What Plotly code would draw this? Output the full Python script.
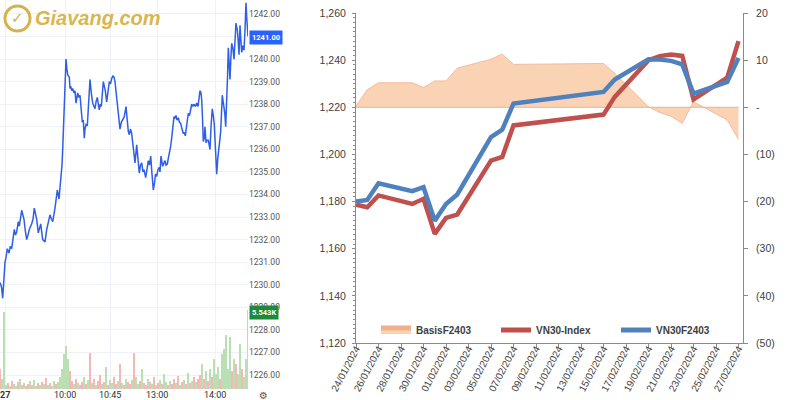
import plotly.graph_objects as go

# ---------------- Left panel: intraday VN30F futures (Giavang.com) ----------------
price_minute = [0,1.5,2.7,4,5,6,7.3,9,10.3,11.7,13,14.3,15.5,16.7,18.3,19.3,21.7,23,24,25.3,26.7,28,29.3,31.7,33,34.3,35.5,36.7,38.3,39.5,40.7,42.7,45,46.7,48,50,51.5,52.7,55,56,57.3,59,61,62,62.7,63.3,64,65,66,66.8,67.7,69.3,70,70.7,71.7,72.7,74,75,76,77.7,79,80,81,82.3,83.3,84.3,85,86,87.3,88.7,90,91.3,92.7,94,95,96,97.3,98.3,99.3,100.3,101.3,103.3,104.3,105.3,106.7,108,109.3,110.5,111.7,113,114,115,116,117,118.3,119.2,120,121.3,122.7,124.3,126,127.3,128.3,129.3,130.5,131.7,133.3,135,136.7,138,139.3,140.5,141.7,143,144,145.7,147,148.3,149.5,150.7,152,153.3,154.5,155.5,156.7,158,159.3,160,161,162.7,164,165,166,167.3,168.3,169.3,170.5,171.7,173,174,175,176,177,178.3,179.5,180.7,182,183.3,184.3,185.3,186.5,188.3,189.5,190.7,191.7,193,194,195.3,196.7,198,199,200,201,201.7,202.5,203.3,204.3,205,206,207,208.3,209.2,210,211,212.3,213.3,214.3,215.5,216.7,217.8,219,220,220.7,221.5,222.3,223.2,224,224.8,225.7,226.7,227.5,228.3,229.2,230,230.8,231.7,232.8,234,235,236,236.7,237.3,238.2,239,239.5,240,240.8,241.7,242.8,244,245,246,246.8,247.7,248]
price_value = [1230.1,1229.9,1229.4,1230.6,1231.0,1231.2,1231.6,1231.4,1231.7,1231.6,1232.1,1232.45,1232.2,1232.35,1232.8,1232.6,1233.3,1233.1,1232.9,1232.4,1232.0,1232.2,1232.45,1232.7,1232.9,1233.4,1233.1,1232.9,1232.3,1232.5,1232.7,1232.0,1231.9,1232.45,1232.7,1233.1,1232.9,1232.8,1233.4,1233.7,1234.2,1233.8,1234.7,1235.3,1236.0,1236.9,1237.9,1239.0,1240.0,1239.6,1239.3,1239.2,1238.7,1238.8,1238.6,1238.7,1238.5,1238.6,1238.05,1238.5,1238.3,1238.4,1237.9,1237.2,1237.3,1236.5,1236.9,1237.1,1237.05,1238.0,1239.1,1238.5,1238.05,1237.9,1237.8,1238.1,1238.3,1238.0,1237.75,1238.0,1237.9,1239.0,1238.8,1238.6,1238.1,1238.7,1239.0,1238.9,1239.15,1239.25,1239.2,1239.0,1238.6,1238.3,1237.7,1237.3,1236.9,1237.2,1237.3,1237.45,1237.9,1237.2,1236.8,1236.65,1236.9,1236.7,1236.0,1235.4,1236.2,1235.6,1234.95,1235.3,1235.4,1235.0,1235.1,1234.75,1235.2,1235.5,1235.3,1235.7,1234.9,1234.2,1234.5,1234.9,1234.8,1235.1,1235.2,1235.0,1235.7,1235.25,1235.4,1235.5,1235.3,1235.35,1235.6,1235.8,1236.1,1236.5,1237.1,1237.45,1237.4,1237.5,1237.3,1237.4,1237.2,1237.15,1236.9,1236.7,1236.75,1236.6,1237.0,1237.6,1237.5,1237.8,1238.0,1237.9,1238.0,1237.9,1238.05,1237.9,1238.3,1238.6,1238.5,1238.2,1237.4,1236.35,1236.5,1237.0,1236.3,1236.4,1236.4,1236.2,1236.0,1237.0,1237.8,1237.5,1237.1,1236.0,1234.9,1235.6,1236.3,1236.5,1236.8,1237.6,1238.4,1238.1,1237.9,1237.6,1237.0,1237.9,1239.2,1240.5,1239.8,1239.1,1240.0,1240.7,1240.5,1240.0,1240.8,1241.6,1241.4,1241.3,1240.8,1240.2,1240.8,1241.5,1240.9,1240.3,1240.6,1240.4,1241.3,1242.5,1241.8,1241.1,1241.0]

vol_minute = list(range(0, 250, 2))
vol_value = [1400,700,5400,
             280,420,210,560,350,210,490,700,280,420,210,350,560,280,630,210,420,280,490,350,770,280,420,210,560,350,490,
             840,
             1400,2450,3010,2100,1260,
             560,350,700,420,280,490,840,350,630,
             2520,
             420,700,280,560,980,350,490,1540,280,630,420,840,350,560,1750,420,280,700,490,350,630,
             2520,840,
             350,560,1400,420,280,700,490,350,840,280,420,630,350,1050,490,280,560,350,700,420,910,280,490,630,350,1120,420,560,840,490,700,
             980,1750,700,1260,560,1400,840,2100,1050,1540,700,2450,2800,3780,1400,3640,1260,2100,1750,1050,3150,1400,840,2100,
             5543]
vol_dir = ("rgg"
           "grgrggrgrgrrgrggrgrgrgrggrg"
           "g"
           "ggggr"
           "rgrgrrgrg"
           "r"
           "grgrrgrgrggrrgrgrgrrg"
           "rg"
           "grgrrgrgrgrgrggrgrrgrgrgrgrgrgr"
           "rgrgrgrgggrgggggrgrggrgg"
           "g")

price_tick_vals = [1226,1227,1228,1229,1230,1231,1232,1233,1234,1235,1236,1237,1238,1239,1240,1242]
time_tick_pos = [5, 65, 110, 157, 215]
time_tick_text = ["<b>27</b>", "10:00", "10:45", "13:00", "14:00"]
last_price_text = "1241.00"
last_volume_text = "5.543K"

# ---------------- Right panel: VN30-Index vs VN30F2403 ----------------
dates = ["2024-01-24","2024-01-25","2024-01-26","2024-01-29","2024-01-30","2024-01-31",
         "2024-02-01","2024-02-02","2024-02-05","2024-02-06","2024-02-07","2024-02-15",
         "2024-02-16","2024-02-19","2024-02-20","2024-02-21","2024-02-22","2024-02-23",
         "2024-02-26","2024-02-27"]
vn30_index = [1178.7,1177.6,1182.6,1179.0,1181.2,1166.3,1173.1,1174.5,1197.4,1198.9,
              1212.3,1216.9,1224.4,1240.0,1241.7,1242.4,1241.8,1223.3,1232.6,1248.1]
vn30f2403 = [1180.0,1180.7,1187.8,1184.4,1186.1,1171.9,1179.0,1183.0,1207.4,1210.5,
             1221.6,1226.5,1231.8,1240.4,1240.3,1239.7,1238.2,1225.8,1230.8,1240.9]
basis = [0.3,3.7,5.2,5.2,4.2,5.6,5.6,8.3,10.2,11.3,9.1,9.3,7.2,0.1,-1.1,-1.9,-3.4,1.2,-2.7,-6.8]

basis_ticks = [-50,-40,-30,-20,-10,0,10,20]
basis_tick_text = ["(50)","(40)","(30)","(20)","(10)","-","10","20"]

W, H = 800, 400
def px_x(p): return p / W
def px_y(p): return 1 - p / H

fig = go.Figure()

# left panel traces
fig.add_trace(go.Bar(x=vol_minute, y=vol_value, xaxis="x", yaxis="y",
                     marker=dict(color=["#b9dfb3" if c == "g" else "#f6b8b6" for c in vol_dir], line=dict(width=0)),
                     width=1.3, showlegend=False, hoverinfo="skip"))
fig.add_trace(go.Scatter(x=price_minute, y=price_value, xaxis="x", yaxis="y3", mode="lines",
                         line=dict(color="#2f5fe8", width=1.5), showlegend=False))

# right panel traces
fig.add_trace(go.Scatter(x=dates, y=basis, xaxis="x2", yaxis="y2", mode="lines", name="<b>BasisF2403</b>",
                         fill="tozeroy", fillcolor="rgba(250,206,172,0.9)",
                         line=dict(color="#f0b08a", width=0.8)))
fig.add_trace(go.Scatter(x=[dates[0], dates[-1]], y=[0, 0], xaxis="x2", yaxis="y2", mode="lines",
                         line=dict(color="#f0b08a", width=1), showlegend=False, hoverinfo="skip"))
fig.add_trace(go.Scatter(x=dates, y=vn30_index, xaxis="x2", yaxis="y4", mode="lines", name="<b>VN30-Index</b>",
                         line=dict(color="#c0504d", width=4.5)))
fig.add_trace(go.Scatter(x=dates, y=vn30f2403, xaxis="x2", yaxis="y4", mode="lines", name="<b>VN30F2403</b>",
                         line=dict(color="#4f81bd", width=4.5)))

grid_c = "#eef1f7"
axis_c = "#8a8a8a"
txt_c = "#404040"
fig.update_layout(
    width=W, height=H, margin=dict(l=0, r=0, t=0, b=0, autoexpand=False),
    paper_bgcolor="white", plot_bgcolor="white",
    font=dict(family="Liberation Sans", color=txt_c),
    bargap=0,
    xaxis=dict(domain=[0, px_x(248)], range=[0, 248], anchor="y", automargin=False,
               tickvals=time_tick_pos, showticklabels=False,
               showgrid=True, gridcolor=grid_c, zeroline=False, showline=False, ticks=""),
    yaxis=dict(domain=[1 - 389 / H, 1], range=[0, 27300], anchor="x", visible=False, automargin=False,
               showgrid=False, zeroline=False),
    yaxis3=dict(overlaying="y", anchor="x", side="right", range=[1225.38, 1242.62], automargin=False,
                tickvals=price_tick_vals, tickformat=".2f",
                tickfont=dict(family="Roboto", size=8.5, color="#555555"),
                showgrid=True, gridcolor=grid_c, zeroline=False, showline=False, ticks="",
                minor=dict(dtick=1, tick0=0, showgrid=True, gridcolor=grid_c)),
    xaxis2=dict(domain=[px_x(356), px_x(743)], anchor="y2", type="date", automargin=False,
                range=["2024-01-24", "2024-02-27 09:36"],
                tick0="2024-01-24", dtick=2 * 86400000, tickformat="%d/%m/%Y", tickangle=-62,
                tickfont=dict(size=10, color=txt_c), ticklabelstandoff=-9,
                showgrid=False, zeroline=False, showline=True, linecolor=axis_c, linewidth=1,
                ticks="outside", ticklen=4, tickcolor=axis_c),
    yaxis2=dict(domain=[px_y(343), px_y(13)], anchor="x2", side="right", range=[-50, 20], automargin=False,
                tickvals=basis_ticks, ticktext=basis_tick_text,
                tickfont=dict(size=10.5, color=txt_c),
                showgrid=False, zeroline=False, showline=True, linecolor=axis_c, linewidth=1,
                ticks="outside", ticklen=4, tickcolor=axis_c, ticklabelstandoff=6),
    yaxis4=dict(overlaying="y2", anchor="x2", side="left", range=[1120, 1260], dtick=20, automargin=False,
                tickformat=",", tickfont=dict(size=10.5, color=txt_c),
                showgrid=False, zeroline=False, showline=True, linecolor=axis_c, linewidth=1,
                ticks="outside", ticklen=3, tickcolor=axis_c, ticklabelstandoff=4,
                minor=dict(dtick=2, ticks="outside", ticklen=2, tickcolor=axis_c)),
    legend=dict(orientation="h", x=px_x(376), y=px_y(330), xanchor="left", yanchor="middle",
                bgcolor="rgba(0,0,0,0)", font=dict(size=10, color=txt_c, family="Liberation Sans"),
                entrywidth=75, entrywidthmode="pixels", itemsizing="constant"),
)

# time labels of the intraday panel
for pos, lab in zip(time_tick_pos, time_tick_text):
    fig.add_annotation(xref="x", yref="paper", x=pos, y=px_y(395), text=lab, showarrow=False,
                       font=dict(family="Roboto", size=9, color="#333333"),
                       xanchor="center", yanchor="middle")

# Watermark logo
fig.add_shape(type="circle", xref="paper", yref="paper",
              x0=px_x(5), x1=px_x(30), y0=px_y(31), y1=px_y(6),
              line=dict(color="#d6b24e", width=3))
fig.add_annotation(xref="paper", yref="paper", x=px_x(17.5), y=px_y(18), text="<b>✓</b>",
                   showarrow=False, font=dict(size=15, color="#d6b24e", family="DejaVu Sans"),
                   xanchor="center", yanchor="middle")
fig.add_annotation(xref="paper", yref="paper", x=px_x(33), y=px_y(18),
                   text="<b><i>Giavang.com</i></b>", showarrow=False,
                   font=dict(size=20, color="#d9b64f", family="Liberation Sans"),
                   xanchor="left", yanchor="middle")

# last price / volume labels
fig.add_annotation(xref="paper", yref="paper", x=px_x(249), y=px_y(37), text="<b>" + last_price_text + "</b>",
                   showarrow=False, font=dict(size=7.5, color="white", family="Roboto"),
                   bgcolor="#2962ff", borderpad=2, xanchor="left", yanchor="middle")
fig.add_annotation(xref="paper", yref="paper", x=px_x(249), y=px_y(312), text="<b>" + last_volume_text + "</b>",
                   showarrow=False, font=dict(size=7.5, color="white", family="Roboto"),
                   bgcolor="#1b8a3a", borderpad=2, xanchor="left", yanchor="middle")
# settings icon
fig.add_annotation(xref="paper", yref="paper", x=px_x(263), y=px_y(395), text="⚙",
                   showarrow=False, font=dict(size=10, color="#555555", family="DejaVu Sans"),
                   xanchor="center", yanchor="middle")

fig.write_html("out.html", config={"displayModeBar": False},
               post_script="document.body.style.margin='0';document.body.style.overflow='hidden';")
